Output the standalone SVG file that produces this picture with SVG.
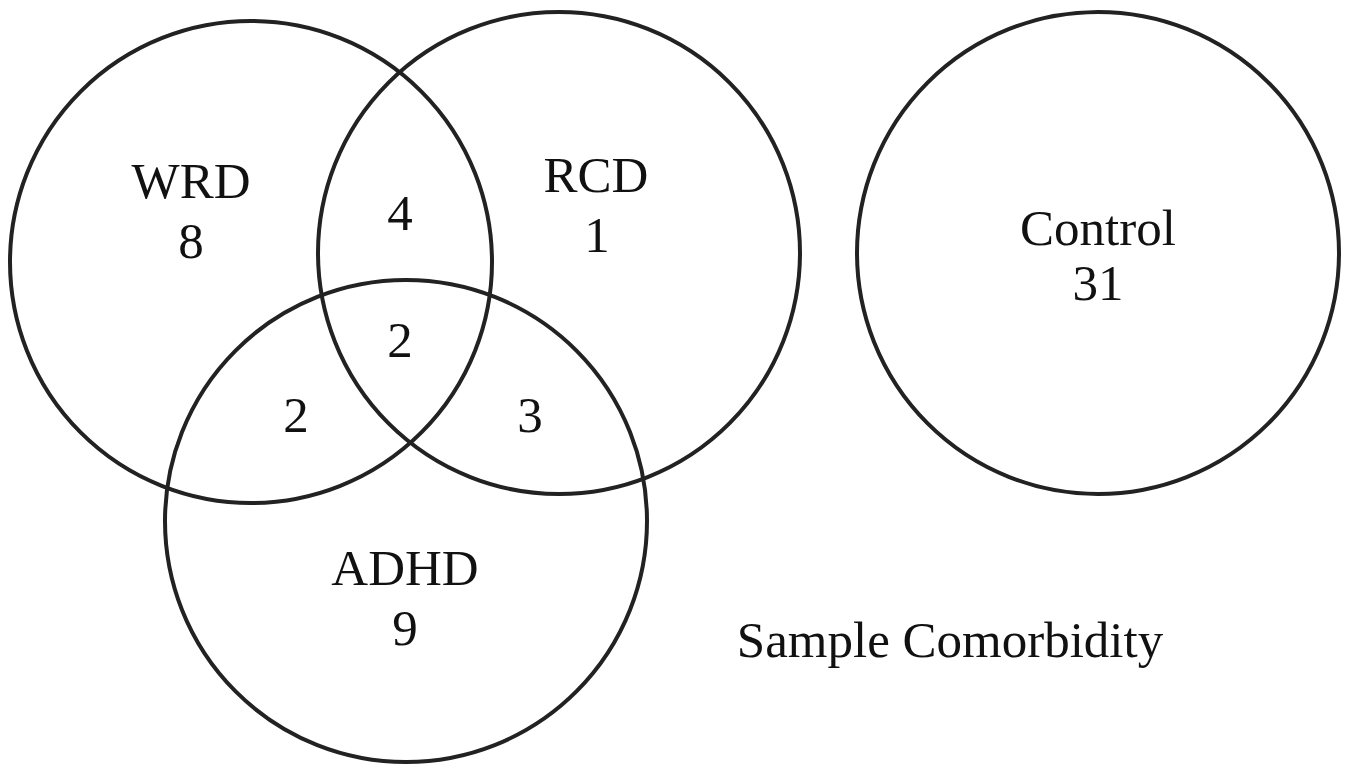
<svg xmlns="http://www.w3.org/2000/svg" width="1347" height="764" viewBox="0 0 1347 764">
<style>
.c{fill:none;stroke:#222;stroke-width:4}
.t{font-family:"Liberation Serif","Times New Roman",serif;font-size:51px;fill:#111;text-anchor:middle}
</style>
<rect width="1347" height="764" fill="#fff"/>
<g id="wrd"><circle class="c" cx="251" cy="262" r="241"/><text class="t" x="191" y="198">WRD</text><text class="t" x="191" y="258">8</text></g>
<g id="rcd"><circle class="c" cx="559" cy="253" r="241"/><text class="t" x="596" y="192">RCD</text><text class="t" x="597" y="252">1</text></g>
<g id="adhd"><circle class="c" cx="406" cy="521" r="241"/><text class="t" x="405" y="585">ADHD</text><text class="t" x="405" y="645">9</text></g>
<g id="control"><circle class="c" cx="1098" cy="253" r="241"/><text class="t" x="1098" y="245">Control</text><text class="t" x="1098" y="300">31</text></g>
<g id="overlaps"><text class="t" x="400" y="230">4</text><text class="t" x="400" y="357">2</text><text class="t" x="296" y="432">2</text><text class="t" x="530" y="432">3</text></g>
<g id="connectors"></g>
<text class="t" x="950" y="657">Sample Comorbidity</text>
</svg>
